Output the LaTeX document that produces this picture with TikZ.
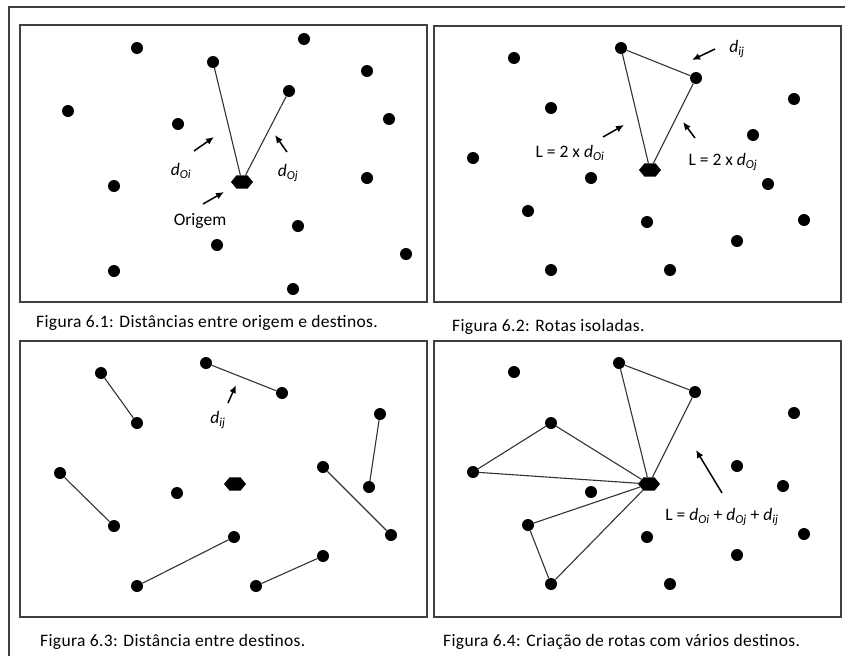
\documentclass[tikz,border=0pt]{standalone}
\usepackage{fontspec}
\setmainfont{Carlito}
\usepackage{tikz}
\usetikzlibrary{arrows.meta,shapes.geometric}

\newcommand{\dsub}[1]{\textit{d}\textsubscript{\textit{#1}}}

\begin{document}
\begin{tikzpicture}[
  x=1pt, y=-1pt,
  frame/.style={draw=black!75, line width=1.4pt},
  dot/.style={circle, fill=black, inner sep=0pt, minimum size=12pt},
  depot/.style={regular polygon, regular polygon sides=6, fill=black, inner sep=0pt,
    minimum size=22pt, yscale=0.7, transform shape},
  link/.style={draw=black!80, line width=1.1pt},
  arrow/.style={-{Latex[length=8pt,width=7pt]}, line width=1.5pt},
  lbl/.style={font=\fontsize{17.5}{20}\selectfont, inner sep=1pt},
  figcap/.style={lbl, anchor=west, font=\fontsize{17.5}{20}\selectfont\addfontfeatures{LetterSpace=2}},
]
\useasboundingbox (0,0) rectangle (845,656);
\draw[frame] (845,7) -- (9,7) -- (9,656);

% panels
\draw[frame] (20,25) rectangle (427,302);
\draw[frame] (434,26) rectangle (841,302);
\draw[frame] (20,341) rectangle (427,617);
\draw[frame] (434,341) rectangle (841,617);

% Figura 6.1
\node[depot] (a0) at (242,182) {};
\foreach \n/\x/\y in {a1/137/48, a2/304/39, a3/213/62, a4/367/71, a5/289/91,
  a6/68/111, a7/178/124, a8/389/119, a9/114/186, a10/367/178, a11/298/226,
  a12/217/245, a13/406/254, a14/114/271, a15/293/289}
  \node[dot] (\n) at (\x,\y) {};
\draw[link] (a0) -- (a3);
\draw[link] (a0) -- (a5);
\node[lbl] (la1) at (181,171) {\dsub{Oi}};
\node[lbl] (la2) at (288,173) {\dsub{Oj}};
\node[lbl] (la3) at (200,221) {Origem};
\coordinate (ta1) at (194,151); \coordinate (ha1) at (214,137);
\coordinate (ta2) at (287,152); \coordinate (ha2) at (275,135);
\coordinate (ta3) at (203,204); \coordinate (ha3) at (224,192);
\draw[arrow] (ta1) -- (ha1);
\draw[arrow] (ta2) -- (ha2);
\draw[arrow] (ta3) -- (ha3);
\node[figcap] (cap1) at (35,323) {Figura 6.1: Distâncias entre origem e destinos.};

% Figura 6.2
\node[depot] (b0) at (650,170) {};
\foreach \n/\x/\y in {b1/514/58, b2/621/48, b3/696/78, b4/794/99, b5/551/108,
  b6/753/135, b7/473/158, b8/591/178, b9/768/184, b10/528/211, b11/647/222,
  b12/804/220, b13/737/241, b14/551/270, b15/670/270}
  \node[dot] (\n) at (\x,\y) {};
\draw[link] (b0) -- (b2) -- (b3) -- (b0);
\node[lbl] (lb1) at (737,49) {\dsub{ij}};
\node[lbl] (lb2) at (570,153) {L = 2 x \dsub{Oi}};
\node[lbl] (lb3) at (723,162) {L = 2 x \dsub{Oj}};
\coordinate (tb1) at (715,49); \coordinate (hb1) at (692,60);
\coordinate (tb2) at (603,137); \coordinate (hb2) at (624,125);
\coordinate (tb3) at (695,138); \coordinate (hb3) at (683,122);
\draw[arrow] (tb1) -- (hb1);
\draw[arrow] (tb2) -- (hb2);
\draw[arrow] (tb3) -- (hb3);
\node[figcap] (cap2) at (451,327) {Figura 6.2: Rotas isoladas.};

% Figura 6.3
\node[depot] (c0) at (235,484) {};
\foreach \n/\x/\y in {c1/101/373, c2/137/423, c3/206/363, c4/282/393,
  c5/380/414, c6/369/487, c7/60/473, c8/114/526, c9/323/467, c10/391/535,
  c11/177/493, c12/234/537, c13/137/586, c14/323/556, c15/256/586}
  \node[dot] (\n) at (\x,\y) {};
\draw[link] (c1) -- (c2);
\draw[link] (c3) -- (c4);
\draw[link] (c5) -- (c6);
\draw[link] (c7) -- (c8);
\draw[link] (c9) -- (c10);
\draw[link] (c12) -- (c13);
\draw[link] (c14) -- (c15);
\node[lbl] (lc1) at (218,420) {\dsub{ij}};
\coordinate (tc1) at (228,403); \coordinate (hc1) at (236,385);
\draw[arrow] (tc1) -- (hc1);
\node[figcap] (cap3) at (39,642) {Figura 6.3: Distância entre destinos.};

% Figura 6.4
\node[depot] (e0) at (649,484) {};
\foreach \n/\x/\y in {e1/514/372, e2/619/363, e3/695/392, e4/794/413,
  e5/551/423, e6/737/466, e7/473/472, e8/591/492, e9/783/486, e10/528/525,
  e11/647/537, e12/804/534, e13/737/555, e14/551/584, e15/670/584}
  \node[dot] (\n) at (\x,\y) {};
\draw[link] (e0) -- (e2) -- (e3) -- (e0);
\draw[link] (e0) -- (e5) -- (e7) -- (e0);
\draw[link] (e0) -- (e10) -- (e14) -- (e0);
\node[lbl] (le1) at (722,517) {L = \dsub{Oi} + \dsub{Oj} + \dsub{ij}};
\coordinate (te1) at (722,493); \coordinate (he1) at (696,450);
\draw[arrow] (te1) -- (he1);
\node[figcap] (cap4) at (442,642) {Figura 6.4: Criação de rotas com vários destinos.};
\end{tikzpicture}
\end{document}
